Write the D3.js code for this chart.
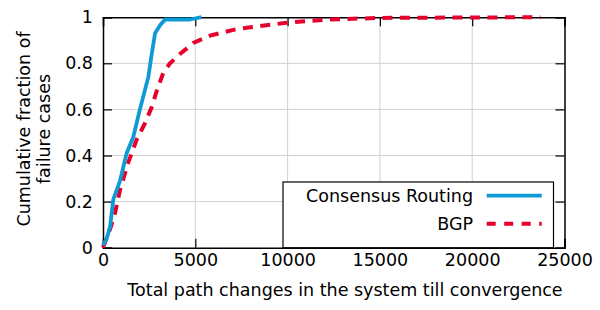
<!DOCTYPE html>
<html><head><meta charset="utf-8">
<script src="https://cdn.jsdelivr.net/npm/d3@7"></script>
<style>body{margin:0;background:#fff}svg{display:block}text{font-family:"DejaVu Sans",sans-serif;fill:#000}</style>
</head><body><svg id="c" width="600" height="310"></svg>
<script>
const consensusX = [0,200,380,560,920,1280,1640,2000,2455,2640,2820,3090,3360,4710,5340];
const consensusY = [0.01,0.04,0.09,0.21,0.29,0.41,0.48,0.60,0.74,0.84,0.93,0.965,0.99,0.99,1.0];
const bgpX = [0,380,650,920,1370,1830,2275,2640,2910,3270,3630,4170,4890,5800,7060,7780,9950,12300,15000,23700];
const bgpY = [0,0.08,0.15,0.25,0.37,0.47,0.54,0.61,0.68,0.76,0.80,0.84,0.888,0.92,0.945,0.954,0.976,0.99,0.997,1.0];
const xTicks = [0,5000,10000,15000,20000,25000];
const yTicks = [0,0.2,0.4,0.6,0.8,1];
const yTickLabels = ["0","0.2","0.4","0.6","0.8","1"];
const seriesNames = ["Consensus Routing","BGP"];
const seriesColors = ["#0e9ad5","#e6002b"];

const FS = 17.5;
const svg = d3.select("#c");
const L=103,R=564.5,T=17.2,B=247.7;
const x = d3.scaleLinear().domain([0,25000]).range([L,R]);
const y = d3.scaleLinear().domain([0,1]).range([B,T]);

// grid
const g = svg.append("g");
g.selectAll(".gx").data(xTicks.slice(1,-1)).join("line")
 .attr("x1",d=>x(d)).attr("x2",d=>x(d)).attr("y1",T).attr("y2",B)
 .attr("stroke","#d0d0d0").attr("stroke-width",1);
g.selectAll(".gy").data(yTicks.slice(1,-1)).join("line")
 .attr("y1",d=>y(d)).attr("y2",d=>y(d)).attr("x1",L).attr("x2",R)
 .attr("stroke","#d0d0d0").attr("stroke-width",1);

// axes (inward ticks, mirrored)
const tk=9;
const ax = svg.append("g");
ax.append("g").attr("transform",`translate(0,${B})`)
 .call(d3.axisBottom(x).tickValues(xTicks).tickSize(-tk).tickPadding(6).tickFormat(d3.format("d")));
ax.append("g").attr("transform",`translate(0,${T})`)
 .call(d3.axisTop(x).tickValues(xTicks).tickSize(-tk).tickFormat(""));
ax.append("g").attr("transform",`translate(${L},0)`)
 .call(d3.axisLeft(y).tickValues(yTicks).tickSize(-tk).tickPadding(10).tickFormat((d,i)=>yTickLabels[i]));
ax.append("g").attr("transform",`translate(${R},0)`)
 .call(d3.axisRight(y).tickValues(yTicks).tickSize(-tk).tickFormat(""));
ax.selectAll(".domain").attr("stroke","#000").attr("stroke-width",1.5);
ax.selectAll(".tick line").attr("stroke","#000").attr("stroke-width",1.2);
ax.selectAll(".tick text").attr("font-size",FS).attr("font-family","DejaVu Sans");

// lines
const line = d3.line().x(d=>x(d[0])).y(d=>y(d[1]));
const cons = consensusX.map((v,i)=>[v,consensusY[i]]);
const bgp = bgpX.map((v,i)=>[v,bgpY[i]]);
svg.append("path").datum(bgp).attr("d",line).attr("fill","none")
 .attr("stroke",seriesColors[1]).attr("stroke-width",4).attr("stroke-dasharray","10,7.5");
svg.append("path").datum(cons).attr("d",line).attr("fill","none")
 .attr("stroke",seriesColors[0]).attr("stroke-width",3.8).attr("stroke-linejoin","round");

// legend
const lg = svg.append("g");
lg.append("rect").attr("x",283).attr("y",182).attr("width",270.5).attr("height",65.7)
 .attr("fill","#fff").attr("stroke","#000").attr("stroke-width",1.2);
seriesNames.forEach((n,i)=>{
  const yy = 195.7 + i*28;
  lg.append("text").attr("x",473).attr("y",yy+6).attr("text-anchor","end").attr("font-size",FS).text(n);
  lg.append("line").attr("x1",486.7).attr("x2",541.7).attr("y1",yy).attr("y2",yy)
   .attr("stroke",seriesColors[i]).attr("stroke-width",i?4:3.8)
   .attr("stroke-dasharray",i?"9,8.5":null);
});

// axis titles
svg.append("text").attr("x",345).attr("y",296).attr("text-anchor","middle").attr("font-size",FS)
 .text("Total path changes in the system till convergence");
const yt = svg.append("text").attr("font-size",FS).attr("text-anchor","middle").attr("transform","rotate(-90)");
yt.append("tspan").attr("x",-129).attr("y",30).text("Cumulative fraction of");
yt.append("tspan").attr("x",-129).attr("y",50).text("failure cases");
</script></body></html>
